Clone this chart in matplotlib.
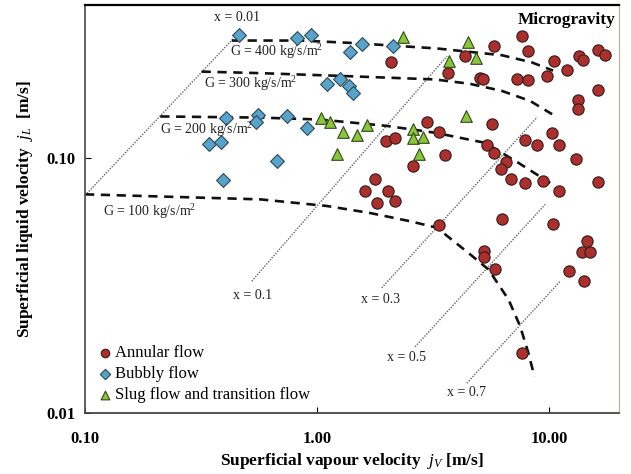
import matplotlib
matplotlib.use("Agg")
import matplotlib.pyplot as plt

plt.rcParams['font.family'] = ['Liberation Serif', 'DejaVu Serif']
plt.rcParams['mathtext.fontset'] = 'custom'
plt.rcParams['mathtext.rm'] = 'Liberation Serif'
plt.rcParams['mathtext.it'] = 'Liberation Serif:italic'
plt.rcParams['mathtext.bf'] = 'Liberation Serif:bold'

# flow pattern data (jv, jl) in m/s
annular_jv = [2.08, 1.98, 2.17, 2.99, 2.585, 1.778, 1.61, 2.03, 1.81, 2.17, 3.36, 3.56,
              5.81, 7.67, 8.09, 4.34, 3.68, 5.04, 5.2, 7.26, 8.14, 9.78, 10.5, 11.9,
              13.5, 14.06, 16.3, 17.4, 16.2, 13.3, 13.3, 5.70, 5.39, 5.81, 6.51, 6.21,
              6.86, 7.88, 7.88, 8.85, 9.45, 10.3, 11.0, 11.0, 13.0, 16.2,
              3.36, 6.25, 10.4, 5.26, 5.26, 5.85, 14.5, 13.9, 15.0, 12.2, 14.2, 7.67]
annular_jl = [0.239, 0.117, 0.1206, 0.139, 0.0933, 0.0827, 0.0743, 0.0743, 0.0669, 0.0679, 0.127, 0.1028,
              0.277, 0.301, 0.2645, 0.253, 0.216, 0.206, 0.205, 0.205, 0.203, 0.211, 0.2416, 0.2226,
              0.2514, 0.244, 0.267, 0.2544, 0.186, 0.1697, 0.156, 0.136, 0.1125, 0.1053, 0.0967, 0.0911,
              0.0827, 0.0802, 0.118, 0.1125, 0.0814, 0.1262, 0.1125, 0.0743, 0.099, 0.0807,
              0.0545, 0.0579, 0.055, 0.0432, 0.041, 0.0366, 0.0473, 0.0428, 0.0428, 0.036, 0.0329, 0.0172]

bubbly_jv = [0.461, 0.404, 0.557, 0.545, 0.342, 0.386, 0.395, 0.823, 0.939, 1.387,
             1.56, 2.12, 1.10, 1.25, 1.378, 1.43, 0.740, 0.903, 0.674]
bubbly_jl = [0.305, 0.1445, 0.1476, 0.139, 0.1135, 0.116, 0.0819, 0.296, 0.305, 0.262,
             0.281, 0.277, 0.196, 0.205, 0.192, 0.181, 0.146, 0.132, 0.0976]

slug_jv = [2.34, 1.037, 1.138, 1.298, 1.483, 1.637, 1.224, 2.585, 2.585, 2.87,
           2.76, 4.46, 3.71, 4.83, 4.37]
slug_jl = [0.300, 0.1445, 0.139, 0.127, 0.123, 0.135, 0.1037, 0.130, 0.1206, 0.1217,
           0.1037, 0.285, 0.2416, 0.247, 0.146]

# constant mass flux lines
G400_jv = [0.429, 0.845, 1.387, 3.28, 6.25, 8.42, 10.4]
G400_jl = [0.290, 0.290, 0.284, 0.270, 0.254, 0.238, 0.221]
G300_jv = [0.318, 0.568, 1.387, 3.23, 4.57, 6.25, 8.28, 10.3]
G300_jl = [0.219, 0.216, 0.210, 0.204, 0.196, 0.184, 0.168, 0.149]
G200_jv = [0.211, 0.568, 1.03, 2.0, 3.23, 5.30, 7.37, 10.1]
G200_jl = [0.146, 0.1445, 0.142, 0.134, 0.126, 0.115, 0.096, 0.080]
G100_jv = [0.1, 0.568, 1.10, 1.69, 2.52, 3.28, 4.49, 5.48, 6.68, 7.50, 8.14, 8.64]
G100_jl = [0.0722, 0.069, 0.065, 0.061, 0.0566, 0.0534, 0.0425, 0.0366, 0.0279, 0.0219, 0.0172, 0.0139]

# constant quality lines (start, end) and label spots
q_labels = ["x = 0.01", "x = 0.1", "x = 0.3", "x = 0.5", "x = 0.7"]
q_jv = [[0.1, 0.434], [0.523, 3.63], [1.90, 8.88], [2.645, 9.61], [4.42, 11.15]]
q_jl = [[0.0715, 0.294], [0.0329, 0.252], [0.031, 0.145], [0.0182, 0.0659], [0.0131, 0.0329]]
q_lab_jv = [0.452, 0.525, 1.87, 2.44, 4.39]
q_lab_jl = [0.356, 0.0289, 0.0279, 0.01647, 0.0120]

fig = plt.figure(figsize=(6.31, 4.74), dpi=100)
ax = fig.add_axes([0.1347, 0.1287, 0.8463, 0.8608])
ax.set_xscale('log')
ax.set_yscale('log')
ax.set_xlim(0.1, 20)
ax.set_ylim(0.01, 0.4)

for xs, ys in zip(q_jv, q_jl):
    ax.plot(xs, ys, ls=(0, (1, 1)), color='#666666', lw=1.0, zorder=1)

for xs, ys in [(G400_jv, G400_jl), (G300_jv, G300_jl), (G200_jv, G200_jl), (G100_jv, G100_jl)]:
    ax.plot(xs, ys, ls=(0, (3.5, 2.5)), color='#111111', lw=1.9, zorder=2)

ax.scatter(annular_jv, annular_jl, s=66, marker='o', c='#a8302e', edgecolors='#3a1a1a',
           linewidths=0.8, zorder=3, label='Annular flow')
ax.scatter(bubbly_jv, bubbly_jl, s=50, marker='D', c='#5aa2c8', edgecolors='#2a4a5a',
           linewidths=0.8, zorder=3, label='Bubbly flow')
ax.scatter(slug_jv, slug_jl, s=70, marker='^', c='#8dc43f', edgecolors='#2f4a1a',
           linewidths=0.8, zorder=3, label='Slug flow and transition flow')

# annotations
txt = dict(fontsize=10, color='#222222')
for lab, xv, yv in zip(q_labels, q_lab_jv, q_lab_jl):
    ax.text(xv, yv, lab, ha='center', va='center', **txt)
ax.text(0.42, 0.262, 'G = 400 kg/s/m$^2$', ha='left', va='center', **txt)
ax.text(0.325, 0.196, 'G = 300 kg/s/m$^2$', ha='left', va='center', **txt)
ax.text(0.21, 0.130, 'G = 200 kg/s/m$^2$', ha='left', va='center', **txt)
ax.text(0.12, 0.062, 'G = 100 kg/s/m$^2$', ha='left', va='center', **txt)
ax.text(0.993, 0.962, 'Microgravity', transform=ax.transAxes, ha='right', va='center',
        fontsize=12.5, fontweight='bold')

leg = ax.legend(loc='lower left', frameon=False, fontsize=12, handletextpad=0.0,
                borderaxespad=0.2, labelspacing=0.3, handlelength=1.2, markerscale=0.75,
                bbox_to_anchor=(0.0, 0.0))

ax.set_xticks([0.1, 1, 10])
ax.set_xticklabels(['0.10', '1.00', '10.00'])
ax.set_yticks([0.01, 0.1])
ax.set_yticklabels(['0.01', '0.10'])
ax.minorticks_off()
ax.tick_params(direction='in', length=4, labelsize=12)
ax.tick_params(axis='x', pad=13)
ax.tick_params(axis='y', pad=7)
for lab in ax.get_xticklabels() + ax.get_yticklabels():
    lab.set_fontweight('bold')

ax.set_xlabel('Superficial vapour velocity  $j_V$ [m/s]', fontsize=12.5, fontweight='bold', labelpad=3)
ax.set_ylabel('Superficial liquid velocity  $j_L$  [m/s]', fontsize=12.5, fontweight='bold', labelpad=8)

ax.spines['top'].set_linewidth(1.6)
ax.spines['top'].set_color('black')
ax.spines['right'].set_color('#b8a8a0')
ax.spines['left'].set_color('#555555')
ax.spines['bottom'].set_color('#444444')
ax.spines['left'].set_linewidth(1.3)
ax.spines['bottom'].set_linewidth(1.3)

fig.savefig('out.png', dpi=100)
